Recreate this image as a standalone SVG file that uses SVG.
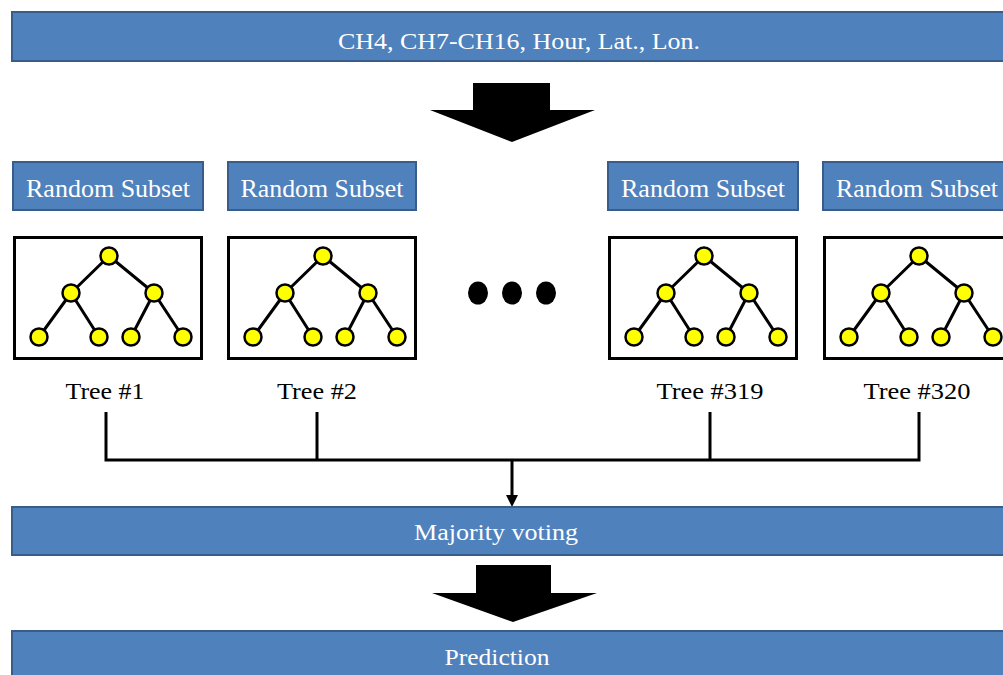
<svg xmlns="http://www.w3.org/2000/svg" width="1003" height="675" viewBox="0 0 1003 675">
  <style>
    .bar { fill: #4F81BD; stroke: #385D8A; stroke-width: 2; }
    .lbl { fill: #FFFFFF; font-family: "Liberation Serif", "Times New Roman", serif; text-anchor: middle; }
    .tname { fill: #000000; font-family: "Liberation Serif", "Times New Roman", serif; font-size: 24px; text-anchor: middle; }
    .frame { fill: #FFFFFF; stroke: #000000; stroke-width: 3; }
    .edge { stroke: #000000; stroke-width: 3; fill: none; }
    .leaf { fill: #FFFF00; stroke: #000000; stroke-width: 2.5; }
    .wire { stroke: #000000; stroke-width: 3; fill: none; }
    .big { fill: #000000; }
  </style>
  <defs>
    <!-- binary tree glyph, drawn relative to its frame's top-left corner -->
    <g id="tree">
      <rect class="frame" x="1.5" y="1.5" width="187" height="121"/>
      <path class="edge" d="M96,20 L58,57 M96,20 L141,57 M58,57 L26,101 M58,57 L86,101 M141,57 L118,101 M141,57 L170,101"/>
      <circle class="leaf" cx="96" cy="20" r="8.5"/>
      <circle class="leaf" cx="58" cy="57" r="8.5"/>
      <circle class="leaf" cx="141" cy="57" r="8.5"/>
      <circle class="leaf" cx="26" cy="101" r="8.5"/>
      <circle class="leaf" cx="86" cy="101" r="8.5"/>
      <circle class="leaf" cx="118" cy="101" r="8.5"/>
      <circle class="leaf" cx="170" cy="101" r="8.5"/>
    </g>
  </defs>

  <rect width="1003" height="675" fill="#FFFFFF"/>

  <g id="inputs">
    <rect class="bar" x="12" y="12" width="1000" height="49"/>
    <text class="lbl" x="519" y="49" font-size="23" textLength="362" lengthAdjust="spacingAndGlyphs">CH4, CH7-CH16, Hour, Lat.,  Lon.</text>
  </g>

  <g id="arrow-split">
    <polygon class="big" points="473,83 550,83 550,110 595,110 512,142 430,110 473,110"/>
  </g>

  <g id="subset-1">
    <rect class="bar" x="13" y="162" width="190" height="48"/>
    <text class="lbl" x="108" y="197" font-size="26" textLength="164" lengthAdjust="spacingAndGlyphs">Random  Subset</text>
  </g>
  <g id="subset-2">
    <rect class="bar" x="228" y="162" width="188" height="48"/>
    <text class="lbl" x="322" y="197" font-size="26" textLength="163" lengthAdjust="spacingAndGlyphs">Random  Subset</text>
  </g>
  <g id="subset-319">
    <rect class="bar" x="608" y="162" width="190" height="48"/>
    <text class="lbl" x="703" y="197" font-size="26" textLength="164" lengthAdjust="spacingAndGlyphs">Random  Subset</text>
  </g>
  <g id="subset-320">
    <rect class="bar" x="823" y="162" width="190" height="48"/>
    <text class="lbl" x="917" y="197" font-size="26" textLength="162" lengthAdjust="spacingAndGlyphs">Random  Subset</text>
  </g>

  <g id="tree-1">
    <use href="#tree" x="13" y="236"/>
    <text class="tname" x="105" y="399" textLength="79" lengthAdjust="spacingAndGlyphs">Tree #1</text>
  </g>
  <g id="tree-2">
    <use href="#tree" x="227" y="236"/>
    <text class="tname" x="317" y="399" textLength="80" lengthAdjust="spacingAndGlyphs">Tree #2</text>
  </g>
  <g id="ellipsis">
    <ellipse cx="478" cy="293" rx="10" ry="11.5"/>
    <ellipse cx="512" cy="293" rx="10" ry="11.5"/>
    <ellipse cx="546" cy="293" rx="10" ry="11.5"/>
  </g>
  <g id="tree-319">
    <use href="#tree" x="608" y="236"/>
    <text class="tname" x="710" y="399" textLength="107" lengthAdjust="spacingAndGlyphs">Tree #319</text>
  </g>
  <g id="tree-320">
    <use href="#tree" x="823" y="236"/>
    <text class="tname" x="917" y="399" textLength="107" lengthAdjust="spacingAndGlyphs">Tree #320</text>
  </g>

  <g id="connectors">
    <path class="wire" d="M106,412 V460 M317,412 V460 M710,412 V460 M919,412 V460 M104.5,460 H920.5"/>
    <path class="wire" d="M512,460 V498"/>
    <polygon points="506,495 518,495 512,507" fill="#000000"/>
  </g>

  <g id="voting">
    <rect class="bar" x="12" y="507" width="1000" height="48"/>
    <text class="lbl" x="496" y="540" font-size="24" textLength="164" lengthAdjust="spacingAndGlyphs">Majority voting</text>
  </g>

  <g id="arrow-merge">
    <polygon class="big" points="476,565 551,565 551,593 597,593 513,622 432,593 476,593"/>
  </g>

  <g id="prediction">
    <rect class="bar" x="12" y="631" width="1000" height="60"/>
    <text class="lbl" x="497" y="665" font-size="24" textLength="105" lengthAdjust="spacingAndGlyphs">Prediction</text>
  </g>
</svg>
